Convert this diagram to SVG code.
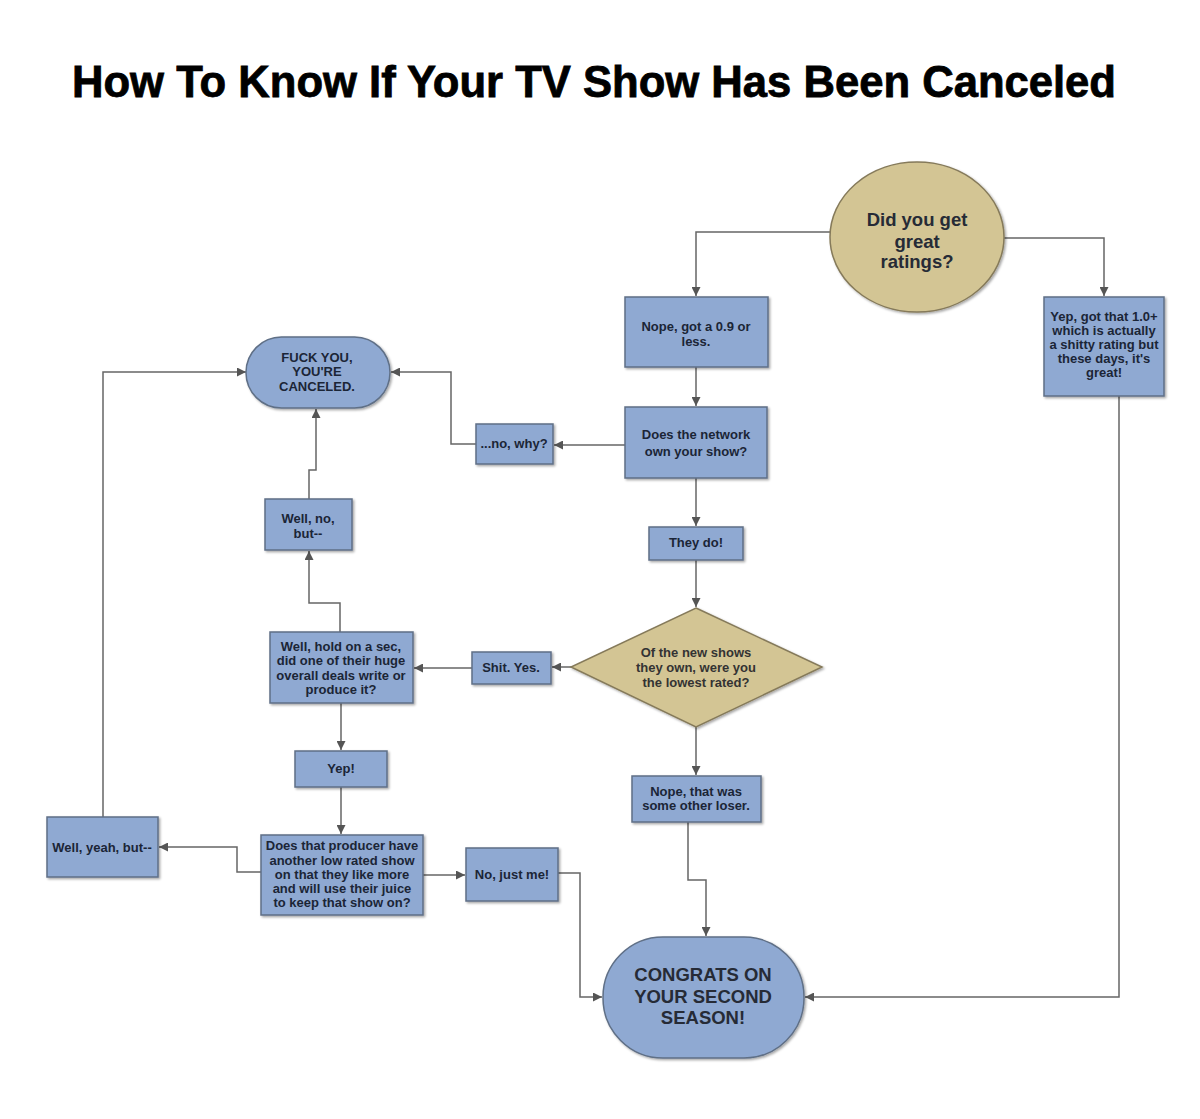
<svg xmlns="http://www.w3.org/2000/svg" width="1200" height="1119" viewBox="0 0 1200 1119">
<defs>
<filter id="sh" x="-10%" y="-10%" width="130%" height="130%">
<feDropShadow dx="1.5" dy="1.5" stdDeviation="1.2" flood-color="#000" flood-opacity="0.35"/>
</filter>
<marker id="ar" viewBox="0 0 10 10" refX="10" refY="5" markerWidth="9" markerHeight="9" markerUnits="userSpaceOnUse" orient="auto">
<path d="M0,0 L10,5 L0,10 z" fill="#555"/>
</marker>
<style>
.box{fill:#8fa9d2;stroke:#5f6f86;stroke-width:1.5;filter:url(#sh)}
.tan{fill:#d3c594;stroke:#857a5a;stroke-width:1.5;filter:url(#sh)}
.t{font-family:"Liberation Sans",Arial,sans-serif;font-weight:bold;font-size:13px;fill:#1b2536;text-anchor:middle}
.big{font-size:18.5px;fill:#262b36}
.tt{font-size:13px;fill:#333}
.c{fill:none;stroke:#666;stroke-width:1.5;marker-end:url(#ar)}
</style>
</defs>
<rect width="1200" height="1119" fill="#fff"/>
<text x="594" y="97" font-family="'Liberation Sans',Arial,sans-serif" font-weight="bold" font-size="44" text-anchor="middle" fill="#000" stroke="#000" stroke-width="0.8" textLength="1044" lengthAdjust="spacingAndGlyphs">How To Know If Your TV Show Has Been Canceled</text>

<g id="connectors">
<path class="c" d="M830,232 H696 V296"/>
<path class="c" d="M1004,238 H1104 V296"/>
<path class="c" d="M696,367 V406"/>
<path class="c" d="M625,445 H554"/>
<path class="c" d="M476,444 H451 V372 H391"/>
<path class="c" d="M309,499 V470 H316 V409"/>
<path class="c" d="M696,478 V526"/>
<path class="c" d="M696,560 V607"/>
<path class="c" d="M571,667 H552"/>
<path class="c" d="M472,668 H414"/>
<path class="c" d="M340,632 V603 H309 V551"/>
<path class="c" d="M341,703 V750"/>
<path class="c" d="M341,787 V834"/>
<path class="c" d="M261,872 H237 V847 H159"/>
<path class="c" d="M103,817 V372 H246"/>
<path class="c" d="M423,875 H465"/>
<path class="c" d="M558,873 H580 V997 H602"/>
<path class="c" d="M696,727 V775"/>
<path class="c" d="M688,822 V880 H706 V936"/>
<path class="c" d="M1119,396 V997 H805"/>
</g>

<g id="ratings">
<ellipse class="tan" cx="917" cy="237" rx="87" ry="75"/>
<text class="t big" x="917" y="226">Did you get</text>
<text class="t big" x="917" y="248">great</text>
<text class="t big" x="917" y="268">ratings?</text>
</g>

<g id="nope09">
<rect class="box" x="625" y="297" width="143" height="70"/>
<text class="t" x="696" y="331">Nope, got a 0.9 or</text>
<text class="t" x="696" y="346">less.</text>
</g>

<g id="yep10">
<rect class="box" x="1044" y="297" width="120" height="99"/>
<text class="t" x="1104" y="321">Yep, got that 1.0+</text>
<text class="t" x="1104" y="335">which is actually</text>
<text class="t" x="1104" y="349">a shitty rating but</text>
<text class="t" x="1104" y="363">these days, it's</text>
<text class="t" x="1104" y="377">great!</text>
</g>

<g id="network">
<rect class="box" x="625" y="407" width="142" height="71"/>
<text class="t" x="696" y="439">Does the network</text>
<text class="t" x="696" y="456">own your show?</text>
</g>

<g id="nowhy">
<rect class="box" x="476" y="424" width="77" height="40"/>
<text class="t" x="514" y="448">...no, why?</text>
</g>

<g id="canceled">
<rect class="box" x="246" y="337" width="144" height="71" rx="35.5"/>
<text class="t" x="317" y="362">FUCK YOU,</text>
<text class="t" x="317" y="376">YOU'RE</text>
<text class="t" x="317" y="391">CANCELED.</text>
</g>

<g id="wellno">
<rect class="box" x="265" y="499" width="87" height="51"/>
<text class="t" x="308" y="523">Well, no,</text>
<text class="t" x="308" y="538">but--</text>
</g>

<g id="theydo">
<rect class="box" x="649" y="527" width="94" height="33"/>
<text class="t" x="696" y="547">They do!</text>
</g>

<g id="lowest">
<polygon class="tan" points="696,608 822,667 696,727 571,667"/>
<text class="t tt" x="696" y="657">Of the new shows</text>
<text class="t tt" x="696" y="672">they own, were you</text>
<text class="t tt" x="696" y="687">the lowest rated?</text>
</g>

<g id="shityes">
<rect class="box" x="472" y="652" width="79" height="32"/>
<text class="t" x="511" y="672">Shit. Yes.</text>
</g>

<g id="holdon">
<rect class="box" x="270" y="632" width="143" height="71"/>
<text class="t" x="341" y="651">Well, hold on a sec,</text>
<text class="t" x="341" y="665">did one of their huge</text>
<text class="t" x="341" y="680">overall deals write or</text>
<text class="t" x="341" y="694">produce it?</text>
</g>

<g id="yep">
<rect class="box" x="295" y="751" width="92" height="36"/>
<text class="t" x="341" y="773">Yep!</text>
</g>

<g id="producer">
<rect class="box" x="261" y="835" width="162" height="80"/>
<text class="t" x="342" y="850">Does that producer have</text>
<text class="t" x="342" y="865">another low rated show</text>
<text class="t" x="342" y="879">on that they like more</text>
<text class="t" x="342" y="893">and will use their juice</text>
<text class="t" x="342" y="907">to keep that show on?</text>
</g>

<g id="wellyeah">
<rect class="box" x="47" y="817" width="111" height="60"/>
<text class="t" x="102" y="852">Well, yeah, but--</text>
</g>

<g id="justme">
<rect class="box" x="466" y="848" width="92" height="53"/>
<text class="t" x="512" y="879">No, just me!</text>
</g>

<g id="otherloser">
<rect class="box" x="632" y="776" width="129" height="46"/>
<text class="t" x="696" y="796">Nope, that was</text>
<text class="t" x="696" y="810">some other loser.</text>
</g>

<g id="congrats">
<rect class="box" x="603" y="937" width="201" height="121" rx="60" ry="60"/>
<text class="t big" x="703" y="981">CONGRATS ON</text>
<text class="t big" x="703" y="1003">YOUR SECOND</text>
<text class="t big" x="703" y="1024">SEASON!</text>
</g>
</svg>
